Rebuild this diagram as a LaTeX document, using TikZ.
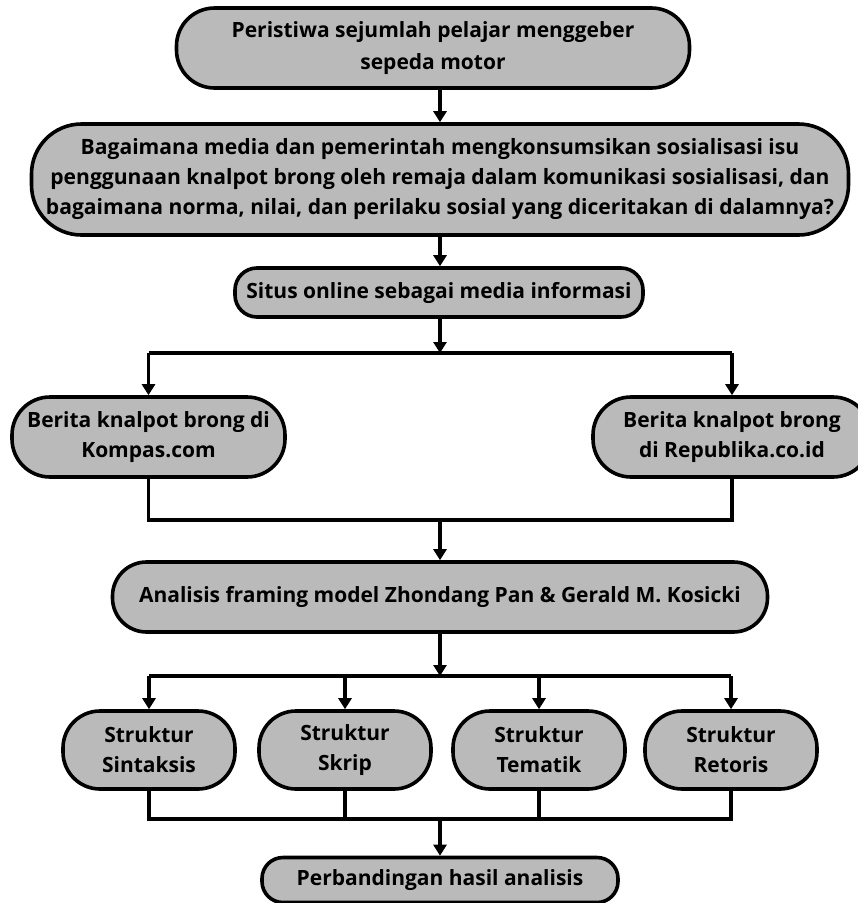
\documentclass[tikz,border=0pt]{standalone}
\usepackage{fontspec}
\setmainfont{Open Sans}
\usetikzlibrary{arrows.meta,calc}
\definecolor{boxfill}{RGB}{186,186,186}
\tikzset{
  flowbox/.style={draw=black, line width=3.6pt, fill=boxfill, align=center,
    inner sep=0pt, font=\bfseries\fontsize{21}{30}\selectfont},
  conn/.style={draw=black, line width=3.4pt},
  arr/.style={conn, -{Triangle[width=13pt,length=11pt]}}
}
\begin{document}
\begin{tikzpicture}[x=1pt,y=-1pt]
\useasboundingbox (0,0) rectangle (858,903);
% nodes
\node[flowbox, minimum width=513pt, minimum height=80pt, rounded corners=38pt,
  font=\bfseries\fontsize{21}{32}\selectfont] (top) at (433,48)
  {Peristiwa sejumlah pelajar menggeber\\sepeda motor};
\node[flowbox, minimum width=817pt, minimum height=111pt, rounded corners=50pt,
  font=\bfseries\fontsize{21.1}{30}\selectfont] (q) at (440,179.5)
  {Bagaimana media dan pemerintah mengkonsumsikan sosialisasi isu\\penggunaan knalpot brong oleh remaja dalam komunikasi sosialisasi, dan\\bagaimana norma, nilai, dan perilaku sosial yang diceritakan di dalamnya?};
\node[flowbox, minimum width=408pt, minimum height=49pt, rounded corners=22pt] (situs) at (439,292.5)
  {Situs online sebagai media informasi};
\node[flowbox, minimum width=273pt, minimum height=80pt, rounded corners=38pt] (kompas) at (148.5,437)
  {Berita knalpot brong di\\Kompas.com};
\node[flowbox, minimum width=278pt, minimum height=80pt, rounded corners=38pt] (repub) at (732,437)
  {Berita knalpot brong\\di Republika.co.id};
\node[flowbox, minimum width=655pt, minimum height=70pt, rounded corners=34pt] (ana) at (440,597)
  {Analisis framing model Zhondang Pan \& Gerald M. Kosicki};
\node[flowbox, minimum width=172pt, minimum height=78pt, rounded corners=37pt] (s1) at (149,750)
  {Struktur\\Sintaksis};
\node[flowbox, minimum width=172pt, minimum height=78pt, rounded corners=37pt] (s2) at (345,750)
  {Struktur\\Skrip};
\node[flowbox, minimum width=172pt, minimum height=78pt, rounded corners=37pt] (s3) at (539,750)
  {Struktur\\Tematik};
\node[flowbox, minimum width=172pt, minimum height=78pt, rounded corners=37pt] (s4) at (731,750)
  {Struktur\\Retoris};
\node[flowbox, minimum width=356pt, minimum height=45pt, rounded corners=21pt] (fin) at (440,880)
  {Perbandingan hasil analisis};
% junction coordinates
\coordinate (b1) at (440,353);
\coordinate (b2) at (440,520);
\coordinate (b3) at (440,676);
\coordinate (b4) at (440,819);
% connectors
\draw[arr] (top.south -| b1) -- (q.north -| b1);
\draw[arr] (q.south -| b1) -- (situs.north -| b1);
\draw[arr] (situs.south -| b1) -- (b1);
\draw[conn] (kompas.north |- b1) -- (repub.north |- b1);
\draw[arr] (kompas.north |- b1) -- (kompas.north);
\draw[arr] (repub.north |- b1) -- (repub.north);
\draw[conn] (kompas.south) -- (kompas.south |- b2) -- (repub.south |- b2) -- (repub.south);
\draw[arr] (b2) -- (ana.north -| b2);
\draw[arr] (ana.south -| b3) -- (b3);
\draw[conn] (s1.north |- b3) -- (s4.north |- b3);
\draw[arr] (s1.north |- b3) -- (s1.north);
\draw[arr] (s2.north |- b3) -- (s2.north);
\draw[arr] (s3.north |- b3) -- (s3.north);
\draw[arr] (s4.north |- b3) -- (s4.north);
\draw[conn] (s1.south) -- (s1.south |- b4) -- (s4.south |- b4) -- (s4.south);
\draw[conn] (s2.south) -- (s2.south |- b4);
\draw[conn] (s3.south) -- (s3.south |- b4);
\draw[arr] (b4) -- (fin.north -| b4);
\end{tikzpicture}
\end{document}
